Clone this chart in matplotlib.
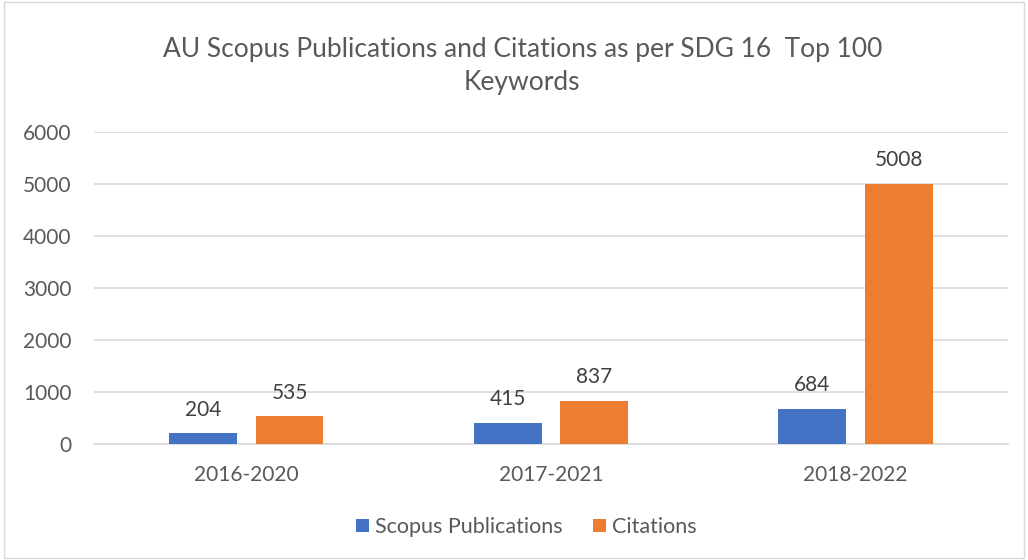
import matplotlib.pyplot as plt
import numpy as np

periods = ["2016-2020", "2017-2021", "2018-2022"]
publications = [204, 415, 684]
citations = [535, 837, 5008]

BLUE = "#4472C4"
ORANGE = "#ED7D31"
TEXT = "#595959"

plt.rcParams["font.family"] = ["Lato", "DejaVu Sans"]

fig = plt.figure(figsize=(10.28, 5.6), dpi=100)
ax = fig.add_axes([0.0914, 0.207, 0.889, 0.557])

x = np.arange(len(periods))
w = 0.223
off = 0.142
b1 = ax.bar(x - off, publications, w, color=BLUE, label="Scopus Publications", zorder=3)
b2 = ax.bar(x + off, citations, w, color=ORANGE, label="Citations", zorder=3)
for bars in (b1, b2):
    for r in bars:
        ax.annotate(f"{int(r.get_height())}", (r.get_x() + r.get_width() / 2, r.get_height()),
                    xytext=(0, 12.5), textcoords="offset points", ha="center", va="baseline",
                    fontsize=15, color="#404040")

ax.set_xlim(-0.5, 2.5)
ax.set_ylim(0, 6000)
ax.set_yticks(range(0, 6001, 1000))
ax.set_xticks(x)
ax.set_xticklabels(periods)
ax.tick_params(axis="both", length=0, labelsize=15, colors=TEXT)
ax.tick_params(axis="x", pad=15)
ax.tick_params(axis="y", pad=16)
ax.grid(axis="y", color="#D9D9D9", linewidth=1.2, zorder=0)
for s in ["top", "right", "left"]:
    ax.spines[s].set_visible(False)
ax.spines["bottom"].set_color("#D9D9D9")
ax.spines["bottom"].set_linewidth(1.2)

fig.text(0.508, 0.882, "AU Scopus Publications and Citations as per SDG 16  Top 100\nKeywords",
         ha="center", va="center", fontsize=19, color=TEXT, linespacing=1.42)

fig.legend(handles=[b1, b2], loc="center", bbox_to_anchor=(0.512, 0.059), ncol=2, frameon=False,
           fontsize=15.5, handlelength=0.6, handleheight=0.6, columnspacing=1.45, handletextpad=0.25,
           labelcolor=TEXT)

border = plt.Rectangle((0.004, 0.003), 0.992, 0.993, transform=fig.transFigure, fill=False,
                       edgecolor="#D9D9D9", linewidth=1)
fig.patches.append(border)

fig.savefig("out.png", dpi=100)
